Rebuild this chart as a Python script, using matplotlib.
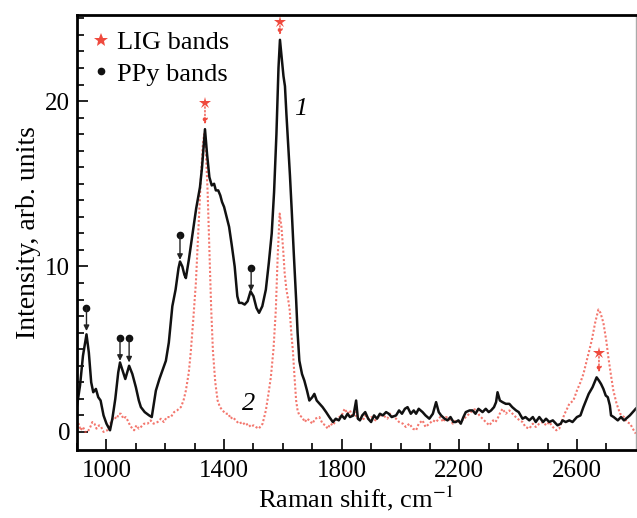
import matplotlib.pyplot as plt
from matplotlib.lines import Line2D

# curve 1 (black, solid)
shift_1 = [900, 910, 920, 932, 940, 948, 955, 964, 972, 980, 990, 1000, 1012, 1020, 1030, 1040, 1046, 1055, 1064, 1077,
           1088, 1100, 1110, 1117, 1130, 1145, 1154, 1162, 1168, 1180, 1190, 1202, 1212, 1224, 1235, 1245, 1250, 1258,
           1265, 1270, 1280, 1293, 1305, 1318, 1325, 1335, 1342, 1350, 1358, 1366, 1372, 1380, 1387, 1393, 1400, 1410,
           1417, 1426, 1436, 1445, 1451, 1460, 1470, 1480, 1490, 1500, 1510, 1519, 1530, 1542, 1552, 1562, 1570, 1578,
           1585, 1590, 1596, 1602, 1607, 1612, 1618, 1624, 1630, 1637, 1645, 1650, 1656, 1665, 1673, 1682, 1690, 1700,
           1707, 1715, 1725, 1735, 1747, 1758, 1770, 1780, 1790, 1800, 1810, 1820, 1828, 1840, 1849, 1855, 1862, 1870,
           1880, 1890, 1900, 1910, 1920, 1930, 1940, 1951, 1960, 1970, 1985, 1995, 2005, 2015, 2024, 2035, 2045, 2053,
           2062, 2075, 2085, 2098, 2110, 2121, 2130, 2138, 2150, 2160, 2170, 2180, 2188, 2197, 2205, 2214, 2222, 2235,
           2245, 2255, 2265, 2279, 2290, 2300, 2308, 2318, 2325, 2330, 2338, 2347, 2358, 2370, 2380, 2393, 2402, 2415,
           2425, 2438, 2450, 2460, 2472, 2485, 2495, 2506, 2518, 2534, 2545, 2551, 2562, 2574, 2585, 2600, 2612, 2622,
           2631, 2640, 2653, 2660, 2667, 2675, 2682, 2690, 2698, 2705, 2712, 2716, 2725, 2739, 2750, 2760, 2767, 2780,
           2790, 2800]
intensity_1 = [1.6, 2.8, 4.6, 5.9, 4.8, 3.0, 2.4, 2.6, 2.1, 1.9, 1.0, 0.5, 0.1, 0.8, 2.0, 3.6, 4.2, 3.7, 3.2, 4.0,
               3.5, 2.7, 1.9, 1.5, 1.2, 1.0, 0.9, 1.8, 2.5, 3.2, 3.7, 4.3, 5.4, 7.6, 8.6, 9.9, 10.3, 10.0,
               9.5, 9.3, 10.4, 12.0, 13.5, 14.8, 16.0, 18.3, 16.8, 15.4, 14.9, 15.0, 14.6, 14.6, 14.3, 13.9, 13.6, 12.9,
               12.4, 11.3, 10.0, 8.2, 7.8, 7.8, 7.7, 7.9, 8.5, 8.2, 7.5, 7.2, 7.6, 8.6, 10.2, 12.0, 14.5, 18.0,
               22.0, 23.7, 22.6, 21.5, 20.9, 19.2, 17.4, 15.5, 13.4, 10.8, 8.0, 6.0, 4.3, 3.5, 3.1, 2.5, 1.9, 2.1,
               2.3, 1.9, 1.7, 1.5, 1.2, 0.9, 0.6, 0.8, 0.7, 1.0, 0.8, 1.1, 0.9, 1.0, 1.9, 0.8, 0.7, 1.0,
               1.2, 0.8, 0.6, 1.0, 0.8, 1.1, 1.0, 1.2, 1.1, 0.9, 1.0, 1.3, 1.1, 1.4, 1.5, 1.1, 1.3, 1.1,
               1.4, 1.2, 1.0, 0.8, 1.1, 1.8, 1.2, 1.0, 0.8, 0.7, 0.9, 0.6, 0.6, 0.7, 0.5, 0.9, 1.2, 1.3,
               1.3, 1.1, 1.4, 1.2, 1.4, 1.2, 1.3, 1.5, 1.8, 2.4, 1.9, 1.8, 1.7, 1.7, 1.5, 1.3, 1.2, 0.8,
               0.9, 0.7, 0.9, 0.6, 0.9, 0.6, 0.8, 0.6, 0.7, 0.4, 0.5, 0.7, 0.6, 0.7, 0.6, 0.9, 1.0, 1.5,
               1.9, 2.3, 2.7, 3.0, 3.3, 3.1, 2.9, 2.6, 2.2, 2.1, 1.6, 1.0, 0.9, 0.7, 0.9, 0.7, 0.8, 1.0,
               1.2, 1.4]

# curve 2 (red, dotted)
shift_2 = [900, 905, 912, 920, 928, 936, 945, 952, 959, 966, 975, 982, 990, 1003, 1010, 1018, 1026, 1035, 1042, 1049,
           1058, 1065, 1072, 1080, 1088, 1094, 1102, 1110, 1117, 1128, 1140, 1150, 1160, 1174, 1185, 1195, 1205, 1219,
           1230, 1240, 1253, 1262, 1270, 1280, 1287, 1296, 1304, 1312, 1320, 1327, 1332, 1338, 1344, 1350, 1356, 1362,
           1370, 1378, 1386, 1395, 1405, 1415, 1422, 1429, 1440, 1450, 1463, 1472, 1482, 1490, 1500, 1508, 1518, 1531,
           1542, 1550, 1559, 1568, 1576, 1582, 1589, 1595, 1601, 1606, 1612, 1618, 1623, 1628, 1634, 1640, 1645, 1650,
           1656, 1665, 1675, 1682, 1690, 1700, 1710, 1724, 1735, 1745, 1752, 1762, 1770, 1781, 1792, 1800, 1810, 1820,
           1828, 1835, 1845, 1852, 1862, 1872, 1880, 1890, 1900, 1915, 1930, 1942, 1955, 1965, 1975, 1985, 1995, 2008,
           2018, 2030, 2042, 2053, 2062, 2075, 2085, 2098, 2110, 2121, 2135, 2145, 2155, 2166, 2178, 2188, 2200, 2210,
           2222, 2234, 2245, 2257, 2268, 2279, 2290, 2302, 2315, 2323, 2330, 2340, 2347, 2358, 2370, 2381, 2392, 2405,
           2415, 2425, 2438, 2450, 2460, 2472, 2485, 2495, 2506, 2518, 2530, 2540, 2550, 2558, 2564, 2574, 2588, 2600,
           2612, 2622, 2636, 2650, 2662, 2673, 2680, 2690, 2700, 2707, 2716, 2724, 2735, 2747, 2760, 2770, 2781, 2790,
           2800]
intensity_2 = [0.2, 0.5, 0.1, 0.3, 0.0, 0.0, 0.3, 0.6, 0.5, 0.2, 0.4, 0.3, 0.0, 0.1, 0.4, 0.7, 0.9, 0.8, 1.1, 1.1,
               0.8, 0.9, 0.7, 0.4, 0.2, 0.1, 0.4, 0.2, 0.3, 0.5, 0.5, 0.7, 0.5, 0.6, 0.8, 0.6, 0.9, 0.9,
               1.2, 1.3, 1.5, 1.9, 2.5, 3.6, 4.9, 7.0, 9.0, 12.0, 15.0, 17.2, 18.0, 17.0, 14.5, 11.0, 7.5, 4.9,
               3.0, 1.9, 1.5, 1.3, 1.1, 1.1, 0.8, 0.9, 0.7, 0.5, 0.6, 0.4, 0.5, 0.3, 0.4, 0.3, 0.2, 0.5,
               1.3, 2.2, 3.3, 5.0, 7.4, 10.5, 13.2, 12.4, 11.0, 9.6, 8.6, 8.0, 7.4, 6.1, 4.9, 3.2, 1.9, 1.3,
               1.0, 0.9, 0.6, 0.8, 0.7, 0.5, 0.8, 0.9, 0.5, 0.4, 0.2, 0.5, 0.4, 0.7, 0.9, 1.0, 1.4, 1.1,
               1.3, 1.0, 1.2, 0.8, 0.9, 0.7, 1.0, 0.8, 0.9, 0.7, 1.0, 1.0, 0.8, 1.1, 0.9, 0.8, 0.6, 0.5,
               0.3, 0.5, 0.2, 0.1, 0.5, 0.7, 0.3, 0.5, 0.7, 0.6, 0.9, 0.6, 0.9, 0.8, 0.5, 0.7, 0.6, 0.7,
               0.9, 1.1, 1.3, 1.4, 1.0, 0.8, 0.6, 0.4, 0.7, 0.6, 0.8, 1.2, 1.4, 1.1, 1.3, 1.1, 0.9, 0.7,
               0.6, 0.3, 0.2, 0.5, 0.3, 0.5, 0.6, 0.4, 0.6, 0.3, 0.1, 0.2, 0.7, 1.1, 1.3, 1.7, 1.9, 2.5,
               3.0, 3.5, 4.5, 5.5, 6.6, 7.4, 7.2, 6.6, 5.5, 4.5, 3.4, 2.5, 1.7, 1.1, 0.9, 0.6, 0.5, 0.2,
               -0.1]

# band markers: position, marker height, arrow tip height
lig_x = [1335, 1590, 2675]
lig_mark_y = [19.9, 24.8, 4.8]
lig_tip_y = [18.6, 24.0, 3.6]
ppy_x = [932, 1046, 1077, 1250, 1492]
ppy_mark_y = [7.5, 5.65, 5.65, 11.9, 9.9]
ppy_tip_y = [6.1, 4.3, 4.2, 10.4, 8.5]

RED = "#ef4a3e"

plt.rcParams["font.family"] = ["Liberation Serif", "DejaVu Serif"]
plt.rcParams["mathtext.fontset"] = "stix"

fig = plt.figure(figsize=(6.37, 5.18), dpi=100)
ax = fig.add_axes([0.121, 0.131, 0.877, 0.840])

ax.plot(shift_2, intensity_2, linestyle=(0, (1, 1)), color=RED, lw=1.5, alpha=0.75)
ax.plot(shift_1, intensity_1, color="#111111", lw=1.8)

for x, ym, yt in zip(lig_x, lig_mark_y, lig_tip_y):
    ax.annotate("", xy=(x, yt), xytext=(x, ym - 0.25),
                arrowprops=dict(arrowstyle="-|>", color=RED, lw=1, linestyle=":",
                                mutation_scale=8, shrinkA=0, shrinkB=0))
    ax.plot(x, ym, marker="*", color=RED, markersize=9, markeredgewidth=0)

for x, ym, yt in zip(ppy_x, ppy_mark_y, ppy_tip_y):
    ax.annotate("", xy=(x, yt), xytext=(x, ym),
                arrowprops=dict(arrowstyle="-|>", color="#222222", lw=1,
                                mutation_scale=8, shrinkA=0, shrinkB=0))
    ax.plot(x, ym, marker="o", color="#111111", markersize=4.5)

ax.text(1660, 19.5, "1", fontsize=19, style="italic", ha="center", va="center")
ax.text(1485, 1.7, "2", fontsize=19, style="italic", ha="center", va="center")

handles = [Line2D([], [], marker="*", color=RED, linestyle="none", markersize=10, markeredgewidth=0),
           Line2D([], [], marker="o", color="#111111", linestyle="none", markersize=4.5)]
ax.legend(handles, ["LIG bands", "PPy bands"], loc="upper left", frameon=False, fontsize=19,
          handlelength=0.6, handletextpad=0.3, borderaxespad=0.2, labelspacing=0.3,
          bbox_to_anchor=(0.0, 1.0))

ax.set_xlim(900, 2800)
ax.set_ylim(-1.1, 25.2)
ax.set_xticks([1000, 1400, 1800, 2200, 2600])
ax.set_xticks(range(900, 2800, 100), minor=True)
ax.set_yticks([0, 10, 20])
ax.set_yticks(range(0, 26), minor=True)
ax.tick_params(which="both", direction="in", labelsize=18, width=1.2)
ax.tick_params(axis="x", pad=7)
ax.tick_params(axis="y", pad=5)
ax.tick_params(which="major", length=8)
ax.tick_params(which="minor", length=5)
for side in ["left", "bottom", "top"]:
    ax.spines[side].set_linewidth(2)
ax.spines["right"].set_linewidth(1)
ax.spines["right"].set_color("#aaaaaa")

ax.set_xlabel("Raman shift, cm$^{-1}$", fontsize=19, labelpad=1)
ax.set_ylabel("Intensity, arb. units", fontsize=20, labelpad=3)

fig.savefig("out.png", dpi=100)
